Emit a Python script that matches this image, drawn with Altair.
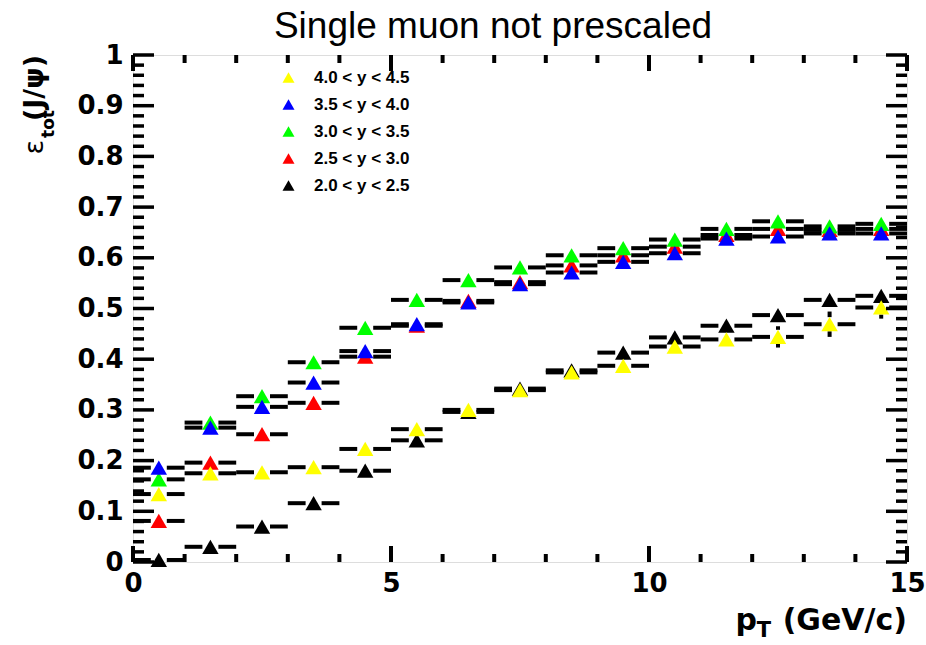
import altair as alt
import pandas as pd

# ---------------- data ----------------
pt = [0.5, 1.5, 2.5, 3.5, 4.5, 5.5, 6.5, 7.5, 8.5, 9.5, 10.5, 11.5, 12.5, 13.5, 14.5]
bin_half_width = 0.5

eff_40_45 = [0.134, 0.175, 0.177, 0.187, 0.223, 0.262, 0.300, 0.339, 0.374, 0.387, 0.425, 0.439, 0.444, 0.469, 0.502]
err_40_45 = [0, 0, 0, 0, 0, 0, 0, 0, 0, 0, 0, 0, 0.021, 0.025, 0.022]
eff_35_40 = [0.186, 0.265, 0.306, 0.354, 0.416, 0.469, 0.512, 0.548, 0.571, 0.592, 0.609, 0.638, 0.642, 0.648, 0.648]
eff_30_35 = [0.163, 0.275, 0.327, 0.394, 0.462, 0.517, 0.556, 0.581, 0.605, 0.619, 0.636, 0.657, 0.672, 0.662, 0.667]
eff_25_30 = [0.081, 0.196, 0.252, 0.314, 0.405, 0.466, 0.515, 0.552, 0.585, 0.605, 0.622, 0.645, 0.657, 0.655, 0.657]
eff_20_25 = [0.004, 0.030, 0.070, 0.116, 0.180, 0.240, 0.296, 0.342, 0.378, 0.413, 0.443, 0.466, 0.487, 0.517, 0.525]
zero_err = [0] * 15

series_labels = ["4.0 < y < 4.5", "3.5 < y < 4.0", "3.0 < y < 3.5", "2.5 < y < 3.0", "2.0 < y < 2.5"]
series_colors = ["#FFFF00", "#0000FF", "#00FF00", "#FF0000", "#000000"]

# drawing order (last drawn on top)
draw_order = [
    ("2.0 < y < 2.5", eff_20_25, zero_err),
    ("2.5 < y < 3.0", eff_25_30, zero_err),
    ("3.0 < y < 3.5", eff_30_35, zero_err),
    ("3.5 < y < 4.0", eff_35_40, zero_err),
    ("4.0 < y < 4.5", eff_40_45, err_40_45),
]

rows = []
for lab, vals, errs in draw_order:
    for p, v, e in zip(pt, vals, errs):
        rows.append({"pt": p, "eff": v, "err": e, "series": lab})
df = pd.DataFrame(rows)

x_major = [0, 5, 10, 15]
x_minor = [1, 2, 3, 4, 6, 7, 8, 9, 11, 12, 13, 14]
y_major = [0, 0.1, 0.2, 0.3, 0.4, 0.5, 0.6, 0.7, 0.8, 0.9, 1]
y_minor = [round(0.02 * i, 2) for i in range(1, 50) if i % 5 != 0]

chart_title = "Single muon not prescaled"

# ---------------- layout ----------------
W, H = 774, 507
FONT_T = "DejaVu Sans"
HGAP = 0.155   # marker half width in data units
VGAP = 0.014   # marker half height in data units

xs = alt.Scale(domain=[0, 15], nice=False, zero=False)
ys = alt.Scale(domain=[0, 1], nice=False, zero=False)

x_axis = alt.Axis(values=x_major, title=None, ticks=False, domain=False, grid=False,
                  labelFont=FONT_T, labelFontWeight="bold", labelFontSize=26,
                  labelColor="black", labelPadding=8, labelFlush=False,
                  labelOverlap=False, labelBound=False)
y_axis = alt.Axis(values=y_major, format="~g", title=None, ticks=False, domain=False,
                  grid=False, labelFont=FONT_T, labelFontWeight="bold", labelFontSize=26,
                  labelColor="black", labelPadding=10, labelOverlap=False,
                  labelBound=False, labelFlush=False)

base = alt.Chart(df)

bar_left = base.mark_rule(color="black", strokeWidth=4, strokeCap="butt").transform_calculate(
    x1=f"datum.pt - {bin_half_width}", x2=f"datum.pt - {HGAP}"
).encode(x=alt.X("x1:Q", scale=xs, axis=x_axis), x2="x2:Q", y=alt.Y("eff:Q", scale=ys, axis=y_axis))

bar_right = base.mark_rule(color="black", strokeWidth=4, strokeCap="butt").transform_calculate(
    x1=f"datum.pt + {HGAP}", x2=f"datum.pt + {bin_half_width}"
).encode(x=alt.X("x1:Q", scale=xs), x2="x2:Q", y=alt.Y("eff:Q", scale=ys))

err_up = base.mark_rule(color="black", strokeWidth=4, strokeCap="butt").transform_filter(
    f"datum.err > {VGAP}"
).transform_calculate(
    y1=f"datum.eff + {VGAP}", y2="datum.eff + datum.err"
).encode(x=alt.X("pt:Q", scale=xs), y=alt.Y("y1:Q", scale=ys), y2="y2:Q")

err_dn = base.mark_rule(color="black", strokeWidth=4, strokeCap="butt").transform_filter(
    f"datum.err > {VGAP}"
).transform_calculate(
    y1=f"datum.eff - datum.err", y2=f"datum.eff - {VGAP}"
).encode(x=alt.X("pt:Q", scale=xs), y=alt.Y("y1:Q", scale=ys), y2="y2:Q")

points = base.mark_point(shape="triangle-up", filled=True, size=270, opacity=1, strokeWidth=0).encode(
    x=alt.X("pt:Q", scale=xs),
    y=alt.Y("eff:Q", scale=ys),
    color=alt.Color("series:N", sort=series_labels,
                    scale=alt.Scale(domain=series_labels, range=series_colors),
                    legend=alt.Legend(title=None, orient="none", legendX=147, legendY=14,
                                      padding=0, symbolType="triangle-up", symbolSize=144,
                                      symbolStrokeWidth=0, labelFont="Liberation Sans",
                                      labelFontWeight="bold", labelFontSize=17,
                                      labelColor="black", labelOffset=17, rowPadding=9)),
)

# ---- frame ticks (ROOT style, pointing inward) ----
def xticks(vals, length):
    d = pd.DataFrame({"v": vals})
    bot = alt.Chart(d).mark_rule(color="black", strokeWidth=4, strokeCap="butt").encode(
        x=alt.X("v:Q", scale=xs), y=alt.value(H), y2=alt.value(H - length))
    top = alt.Chart(d).mark_rule(color="black", strokeWidth=4, strokeCap="butt").encode(
        x=alt.X("v:Q", scale=xs), y=alt.value(0), y2=alt.value(length))
    return bot + top

def yticks(vals, length):
    d = pd.DataFrame({"v": vals})
    left = alt.Chart(d).mark_rule(color="black", strokeWidth=3.5, strokeCap="butt").encode(
        y=alt.Y("v:Q", scale=ys), x=alt.value(0), x2=alt.value(length))
    right = alt.Chart(d).mark_rule(color="black", strokeWidth=3.5, strokeCap="butt").encode(
        y=alt.Y("v:Q", scale=ys), x=alt.value(W - length), x2=alt.value(W))
    return left + right

ticks = xticks(x_minor, 8) + xticks(x_major, 16) + yticks(y_minor, 11) + yticks(y_major, 21)

# ---- titles built from text pieces ----
def label(txt, x, y, size, weight="bold", angle=0, align="right", font=FONT_T):
    return alt.Chart(pd.DataFrame({"t": [txt]})).mark_text(
        font=font, fontSize=size, fontWeight=weight, angle=angle, align=align,
        baseline="alphabetic", color="black"
    ).encode(text="t:N", x=alt.value(x), y=alt.value(y))

ytitle = (label("(J/ψ)", -90, 0, 27, angle=270)
          + label("tot", -79, 55, 17, angle=270)
          + label("ε", -90, 85, 27, weight="normal", angle=270))
xtitle = (label("(GeV/c)", W, 575, 30)
          + label("T", 638, 582, 21)
          + label("p", 624, 575, 30))
main_title = label(chart_title, 360, -17, 37, weight="normal", align="center",
                   font="Liberation Sans")

chart = alt.layer(
    bar_left, bar_right, err_up, err_dn, points, ticks, ytitle, xtitle, main_title
).properties(
    width=W, height=H,
    autosize=alt.AutoSizeParams(type="none"),
    padding={"left": 133, "top": 55, "right": 19, "bottom": 83},
).configure_view(stroke="black", strokeWidth=4).configure(background="white")

chart.save("out.html", embed_options={"renderer": "svg", "actions": False})
